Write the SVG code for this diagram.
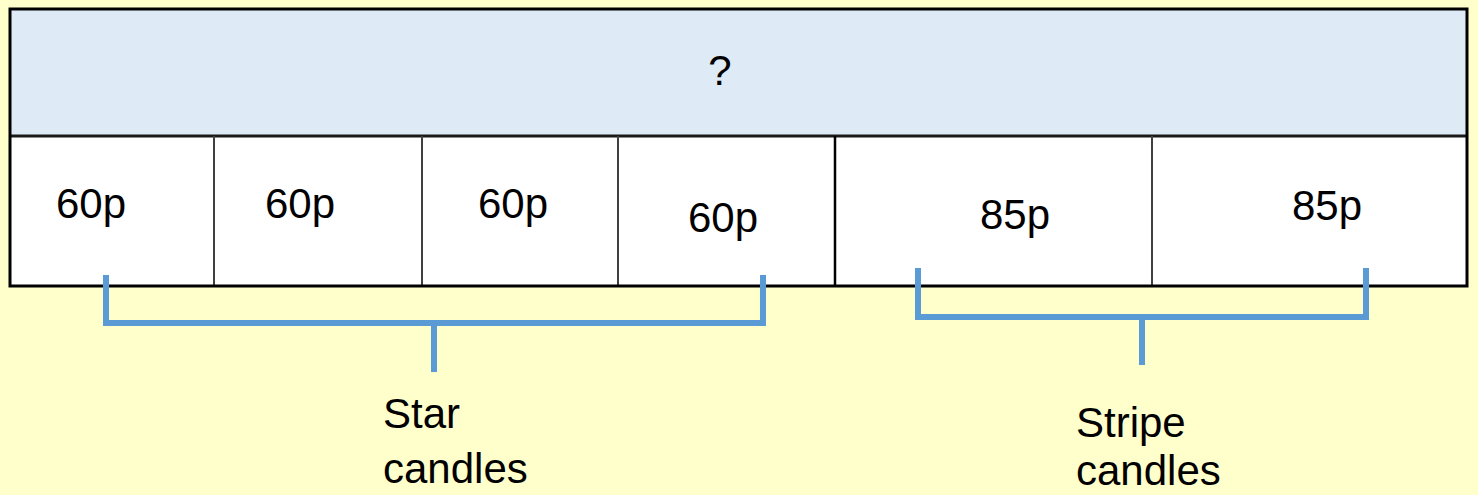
<svg xmlns="http://www.w3.org/2000/svg" width="1478" height="495" viewBox="0 0 1478 495">
  <style>
    .lbl { font-family: "Liberation Sans", Arial, sans-serif; font-size: 42px; fill: #000; }
    .div { stroke: #404040; stroke-width: 2; }
    .brk { fill: none; stroke: #5B9BD5; stroke-width: 6; stroke-linecap: butt; stroke-linejoin: miter; }
  </style>
  <rect x="0" y="0" width="1478" height="495" fill="#FFFFCC"/>
  <g id="table">
    <rect id="header" x="10" y="9" width="1457" height="127" fill="#DEEAF6"/>
    <rect id="row" x="10" y="136" width="1457" height="150" fill="#FFFFFF"/>
    <line x1="10" y1="136" x2="1467" y2="136" stroke="#1a1a1a" stroke-width="3"/>
    <line class="div" x1="214" y1="136" x2="214" y2="286"/>
    <line class="div" x1="422" y1="136" x2="422" y2="286"/>
    <line class="div" x1="618" y1="136" x2="618" y2="286"/>
    <line x1="835" y1="136" x2="835" y2="286" stroke="#000" stroke-width="2.5"/>
    <line class="div" x1="1152" y1="136" x2="1152" y2="286"/>
    <rect x="10" y="9" width="1457" height="277" fill="none" stroke="#000" stroke-width="3"/>
  </g>
  <g id="header-label"><text class="lbl" x="720" y="85" text-anchor="middle">?</text></g>
  <g id="cell1"><text class="lbl" x="56" y="218">60p</text></g>
  <g id="cell2"><text class="lbl" x="265" y="218">60p</text></g>
  <g id="cell3"><text class="lbl" x="478" y="218">60p</text></g>
  <g id="cell4"><text class="lbl" x="688" y="232">60p</text></g>
  <g id="cell5"><text class="lbl" x="980" y="229">85p</text></g>
  <g id="cell6"><text class="lbl" x="1292" y="220">85p</text></g>
  <g id="connectors">
    <path class="brk" d="M106,275 V323 H763 V275"/>
    <line class="brk" x1="434" y1="321" x2="434" y2="372"/>
    <path class="brk" d="M918,268 V317 H1366 V268"/>
    <line class="brk" x1="1142" y1="315" x2="1142" y2="365"/>
  </g>
  <g id="star-label">
    <text class="lbl" x="383" y="428">Star</text>
    <text class="lbl" x="383" y="483">candles</text>
  </g>
  <g id="stripe-label">
    <text class="lbl" x="1076" y="437">Stripe</text>
    <text class="lbl" x="1076" y="485">candles</text>
  </g>
</svg>
